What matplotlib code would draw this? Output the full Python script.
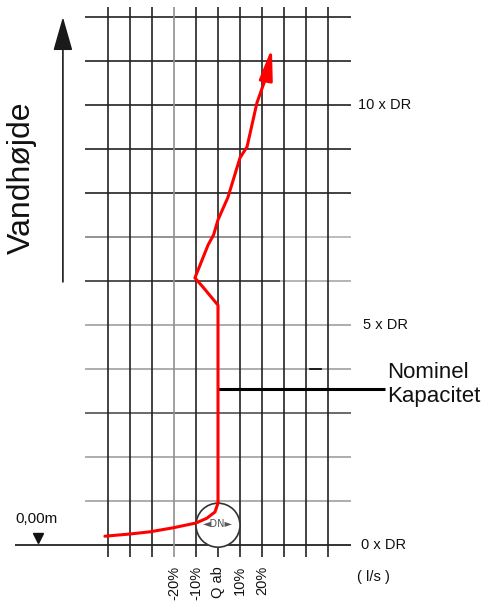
import matplotlib
matplotlib.use("Agg")
import matplotlib.pyplot as plt
from matplotlib.patches import Ellipse

plt.rcParams['font.family'] = ['Liberation Sans', 'DejaVu Sans']

# ---- data ----
x_grid = [-5, -4, -3, -2, -1, 0, 1, 2, 3, 4, 5]          # units of 10 %
y_grid = list(range(0, 13))                                # units of DR
x_tick_pos = [-2, -1, 0, 1, 2]
x_tick_labels = ["-20%", "-10%", "Q ab", "10%", "20%"]
y_label_pos = [10, 5, 0]
y_label_text = ["10 x DR", "5 x DR", "0 x DR"]

curve_x = [-5.14, -4.0, -3.09, -2.05, -1.0, -0.5, -0.14, 0.0, 0.0,
           -0.68, -1.05, -0.45, -0.2, 0.0, 0.45, 1.0, 1.32, 1.77, 2.23]
curve_y = [0.20, 0.25, 0.30, 0.39, 0.50, 0.61, 0.75, 0.95, 5.45,
           5.86, 6.07, 6.82, 7.05, 7.39, 7.90, 8.80, 9.05, 10.05, 10.70]
arrow_tip = (2.45, 11.3)
nominal_level = 3.55
circle_center = (0.0, 0.45)

# ---- figure ----
fig = plt.figure(figsize=(5.02, 6.10), dpi=100)
ax = fig.add_axes([0, 0, 1, 1])
ax.set_xlim(-218 / 22, (502 - 218) / 22)
ax.set_ylim((545 - 610) / 44, 545 / 44)
ax.axis('off')

# horizontal grid lines
h_colors = {0: '#111111', 1: '#a0a0a0', 2: '#a0a0a0', 3: '#505050', 4: '#a0a0a0',
            5: '#a0a0a0', 6: None, 7: None, 8: '#222222', 9: '#222222',
            10: '#222222', 11: '#222222', 12: '#222222'}
for y in y_grid:
    c = h_colors[y]
    if y == 0:
        ax.plot([-9.23, 6.05], [y, y], color=c, lw=1.2, solid_capstyle='butt')
    elif y == 6:
        ax.plot([-6.05, 2.8], [y, y], color='#333333', lw=1.2, solid_capstyle='butt')
        ax.plot([2.8, 6.05], [y, y], color='#a8a8a8', lw=1.2, solid_capstyle='butt')
    elif y == 7:
        ax.plot([-6.05, 2.1], [y, y], color='#808080', lw=1.2, solid_capstyle='butt')
        ax.plot([2.1, 6.05], [y, y], color='#b0b0b0', lw=1.2, solid_capstyle='butt')
    else:
        ax.plot([-6.05, 6.05], [y, y], color=c, lw=1.2, solid_capstyle='butt')

# vertical grid lines
for x in x_grid:
    c = '#909090' if x == -2 else '#222222'
    ax.plot([x, x], [-0.27, 12.23], color=c, lw=1.2, solid_capstyle='butt')

# small dash
ax.plot([4.18, 4.68], [4.0, 4.0], color='#111111', lw=1.3)

# nominal capacity line
ax.plot([0, 7.6], [nominal_level, nominal_level], color='black', lw=2.2,
        solid_capstyle='butt')
ax.text(7.68, nominal_level + 0.62, "Nominel\nKapacitet", fontsize=16,
        ha='left', va='top', linespacing=1.2, color='#111111')

# circle
ax.add_patch(Ellipse(circle_center, 2.0, 1.0, fill=True, facecolor='white',
                     edgecolor='#333333', lw=1.2, zorder=3))
ax.text(circle_center[0], circle_center[1] + 0.02, "◄DN►", fontsize=7,
        ha='center', va='center', color='#555555', zorder=4,
        family=['DejaVu Sans'])

# red curve
ax.plot(curve_x, curve_y, color='#ff0000', lw=2.2, zorder=5,
        solid_joinstyle='round', solid_capstyle='round')
ax.annotate('', xy=arrow_tip, xytext=(curve_x[-1], curve_y[-1]),
            arrowprops=dict(arrowstyle='-|>,head_length=1.9,head_width=0.4',
                            color='#ff0000', lw=2.2, shrinkA=0, shrinkB=0),
            zorder=6)

# left arrow
ax.annotate('', xy=(-7.05, 12.0), xytext=(-7.05, 5.98),
            arrowprops=dict(arrowstyle='-|>,head_length=2.1,head_width=0.6',
                            color='#1a1a1a', lw=1.2, shrinkA=0, shrinkB=0))
ax.text(-8.9, 8.34, "Vandhøjde", rotation=90, fontsize=23, ha='center',
        va='center', color='#111111')

# level labels
for yp, t in zip(y_label_pos, y_label_text):
    dx = {10: 6.36, 5: 6.59, 0: 6.5}[yp]
    ax.text(dx, yp, t, fontsize=10.5, ha='left', va='center', color='#111111')

# 0,00m marker
ax.text(-9.23, 0.59, "0,00m", fontsize=11, ha='left', va='center', color='#111111')
ax.plot([-8.18], [0.15], marker='v', markersize=7, color='#111111', linestyle='none')

# x tick labels
for xp, t in zip(x_tick_pos, x_tick_labels):
    ax.text(xp, -0.48, t, rotation=90, fontsize=10.5, ha='center', va='top',
            color='#111111')
ax.text(6.32, -0.73, "( l/s )", fontsize=10.5, ha='left', va='center', color='#111111')

fig.savefig("out.png", dpi=100)
